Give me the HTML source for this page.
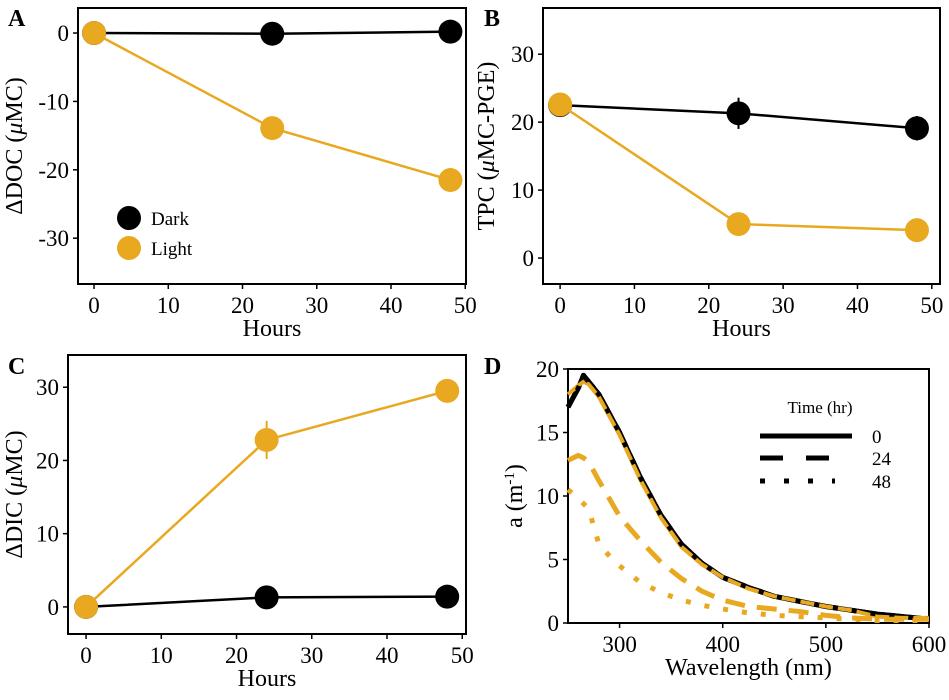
<!DOCTYPE html>
<html><head><meta charset="utf-8"><style>
html,body{margin:0;padding:0;background:#fff;}
svg{display:block;font-family:"Liberation Serif",serif;}
</style></head><body>
<svg id="s" width="949" height="700" viewBox="0 0 949 700"></svg>
<script>
const hours=[0,24,48];
const aDark=[0,-0.1,0.2], aLight=[0,-13.9,-21.5];
const aDarkErr=[0.3,0.3,0.3], aLightErr=[0.3,1.2,0.3];
const bDark=[22.5,21.3,19.1], bLight=[22.6,5.0,4.1];
const bDarkErr=[0.3,2.3,1.8], bLightErr=[0.3,0.3,0.3];
const cDark=[0,1.3,1.4], cLight=[0,22.8,29.5];
const cDarkErr=[0.2,0.3,1.5], cLightErr=[0.3,2.6,0.3];
const hourTicks=[0,10,20,30,40,50];
const aTicks=[0,-10,-20,-30], bTicks=[0,10,20,30], cTicks=[0,10,20,30];
const wl=[250,260,265,270,280,290,300,320,340,360,380,400,425,450,475,500,525,550,575,600];
const dDark=[17,18.5,19.5,19,18,16.5,15,11.5,8.5,6.2,4.7,3.6,2.8,2.1,1.7,1.3,1.0,0.7,0.5,0.3];
const dLight0=[18,18.7,19,18.8,17.8,16.3,14.8,11.3,8.3,6.0,4.6,3.6,2.7,2.1,1.7,1.3,1.0,0.5,0.4,0.4];
const dLight24=[12.8,13.2,13,12.7,11.2,9.8,8.4,6.5,4.8,3.5,2.5,1.8,1.3,1.1,0.9,0.6,0.4,0.3,0.3,0.3];
const dLight48=[10.5,9.8,9.4,9.0,6.2,5.3,4.5,3.2,2.4,1.8,1.4,1.1,0.8,0.6,0.5,0.4,0.3,0.2,0.2,0.2];
const wlTicks=[300,400,500,600], dTicks=[0,5,10,15,20];
const OR="#E8A820";
const S=document.getElementById('s');
const NS="http://www.w3.org/2000/svg";
function el(t,a,p){const e=document.createElementNS(NS,t);for(const k in a)e.setAttribute(k,a[k]);(p||S).appendChild(e);return e;}
function txt(x,y,s,a,p){const e=el('text',Object.assign({x:x,y:y},a),p);e.textContent=s;return e;}
function panel(name,box,xd,yd,xt,yt,xl,yl,letter,lp){
 const g=el('g',{});
 
 
 const X=v=>box.x0+(v-xd[0])/(xd[1]-xd[0])*(box.x1-box.x0);
 const Y=v=>box.y1-(v-yd[0])/(yd[1]-yd[0])*(box.y1-box.y0);
 const fr=el('rect',{x:box.x0,y:box.y0,width:box.x1-box.x0,height:box.y1-box.y0,fill:'none',stroke:'#000','stroke-width':2},g);
 
 
 xt.forEach(t=>{el('line',{x1:X(t),x2:X(t),y1:box.y1,y2:box.y1+5,stroke:'#000','stroke-width':1.5},g);
  const e=txt(X(t),box.y1+29,String(t),{'font-size':23,'text-anchor':'middle'},g);
  
  });
 yt.forEach(t=>{el('line',{x1:box.x0-5,x2:box.x0,y1:Y(t),y2:Y(t),stroke:'#000','stroke-width':1.5},g);
  const e=txt(box.x0-9,Y(t)+8,String(t),{'font-size':23,'text-anchor':'end'},g);
  
  });
 const xe=txt((box.x0+box.x1)/2,box.y1+52,xl,{'font-size':24,'text-anchor':'middle'},g);
 
 
 const yc=(box.y0+box.y1)/2;
 const ye=el('text',{x:lp,y:yc,'font-size':24,'text-anchor':'middle',transform:`rotate(-90 ${lp} ${yc})`},g);
 ye.innerHTML=yl;
 
 
 const le=txt(letter[0],letter[1],letter[2],{'font-size':24,'font-weight':'bold'},g);
 
 
 return {g,X,Y};
}
function series(P,xs,ys,es,col,nm){
 const pl=el('polyline',{points:xs.map((x,i)=>P.X(x)+','+P.Y(ys[i])).join(' '),fill:'none',stroke:col,'stroke-width':2.5},P.g);
 
 
 xs.forEach((x,i)=>{
  el('line',{x1:P.X(x),x2:P.X(x),y1:P.Y(ys[i]-es[i]),y2:P.Y(ys[i]+es[i]),stroke:col,'stroke-width':2},P.g);
  const c=el('circle',{cx:P.X(x),cy:P.Y(ys[i]),r:12,fill:col},P.g);
  
  
 });
}
const mu='<tspan font-style="italic">μ</tspan>';
const A=panel('panel-a',{x0:78,x1:466,y0:8,y1:284},[-2.16,50.1],[-36.7,3.66],hourTicks,aTicks,'Hours','ΔDOC ('+mu+'MC)',[8,26,'A'],22);
series(A,hours,aDark,aDarkErr,'#000','dark');
series(A,hours,aLight,aLightErr,OR,'light');
[['Dark','#000',218],['Light',OR,248]].forEach(l=>{
 const c=el('circle',{cx:129,cy:l[2],r:12,fill:l[1]},A.g);
 
 
 const t=txt(151,l[2]+7,l[0],{'font-size':19},A.g);
 
 
});
const B=panel('panel-b',{x0:543,x1:940,y0:8,y1:284},[-2.3,51.1],[-3.82,36.8],hourTicks,bTicks,'Hours','TPC ('+mu+'MC-PGE)',[484,26,'B'],494);
series(B,hours,bDark,bDarkErr,'#000','dark');
series(B,hours,bLight,bLightErr,OR,'light');
const C=panel('panel-c',{x0:68,x1:466,y0:355,y1:634},[-2.4,50.5],[-3.7,34.4],hourTicks,cTicks,'Hours','ΔDIC ('+mu+'MC)',[8,374,'C'],22);
series(C,hours,cDark,cDarkErr,'#000','dark');
series(C,hours,cLight,cLightErr,OR,'light');
const D=panel('panel-d',{x0:568,x1:929,y0:369,y1:623},[250,600],[0,20],wlTicks,dTicks,'Wavelength (nm)','a (m<tspan baseline-shift="super" font-size="15">-1</tspan>)',[484,374,'D'],522);
function curve(ys,col,dash,w,nm){
 const p=el('polyline',{points:wl.map((x,i)=>D.X(x)+','+D.Y(ys[i])).join(' '),fill:'none',stroke:col,'stroke-width':w,'stroke-dasharray':dash,'stroke-linejoin':'round'},D.g);
 
 
}
curve(dDark,'#000','none',5,'dark-0h-curve');
curve(dDark,'#000','20 12',5,'dark-24h-curve');
curve(dLight0,OR,'none',4,'light-0h-curve');
curve(dDark,'#000','5 14',5,'dark-48h-curve');
curve(dLight24,OR,'20 12',5,'light-24h-curve');
curve(dLight48,OR,'5 14',5,'light-48h-curve');
const lt=txt(820,413,'Time (hr)',{'font-size':17,'text-anchor':'middle'},D.g);


[['0','none',436,852],['24','23 23',458,829],['48','5 19',481,835]].forEach(l=>{
 const ln=el('line',{x1:760,x2:l[3],y1:l[2],y2:l[2],stroke:'#000','stroke-width':5,'stroke-dasharray':l[1]},D.g);
 
 
 const t=txt(872,l[2]+7,l[0],{'font-size':19},D.g);
 
 
});
</script>
</body></html>
